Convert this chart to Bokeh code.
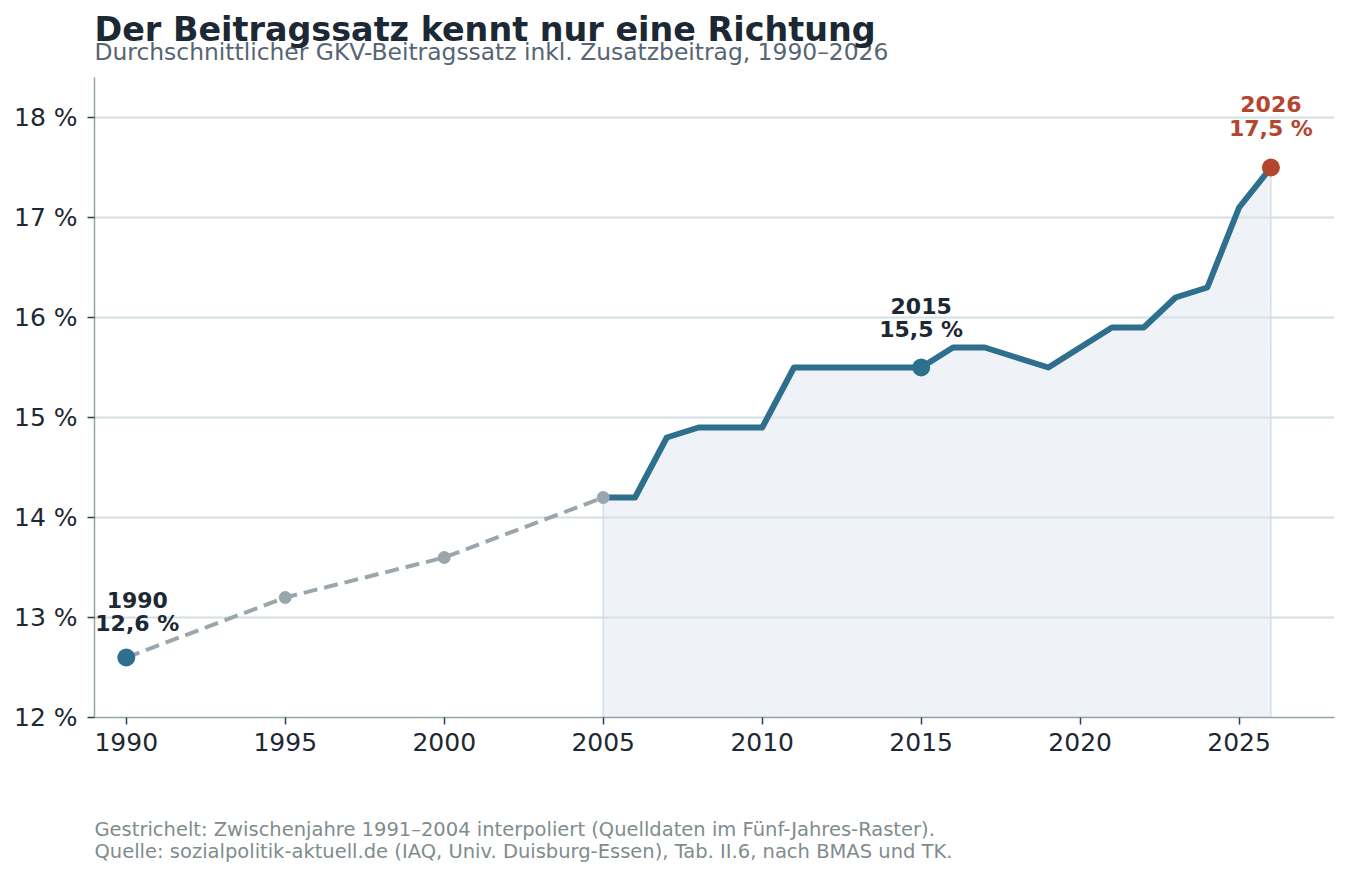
from bokeh.plotting import figure
from bokeh.models import ColumnDataSource, FixedTicker, Title
from bokeh.core.properties import value
from bokeh.embed import file_html
from bokeh.resources import INLINE

# --- data ---
dashed_years = [1990, 1995, 2000, 2005]
dashed_rates = [12.6, 13.2, 13.6, 14.2]
solid_years = [2005, 2006, 2007, 2008, 2009, 2010, 2011, 2012, 2013, 2014, 2015,
               2016, 2017, 2018, 2019, 2020, 2021, 2022, 2023, 2024, 2025, 2026]
solid_rates = [14.2, 14.2, 14.8, 14.9, 14.9, 14.9, 15.5, 15.5, 15.5, 15.5, 15.5,
               15.7, 15.7, 15.6, 15.5, 15.7, 15.9, 15.9, 16.2, 16.3, 17.1, 17.5]
grid_years = [1995, 2000, 2005]
grid_rates = [13.2, 13.6, 14.2]
hl_years = [1990, 2015]
hl_rates = [12.6, 15.5]
hl_texts = ["1990\n12,6 %", "2015\n15,5 %"]
end_year = [2026]
end_rate = [17.5]
end_text = ["2026\n17,5 %"]
x_ticks = [1990, 1995, 2000, 2005, 2010, 2015, 2020, 2025]
y_ticks = [12, 13, 14, 15, 16, 17, 18]
y_tick_labels = ["12 %", "13 %", "14 %", "15 %", "16 %", "17 %", "18 %"]

title_text = "Der Beitragssatz kennt nur eine Richtung"
subtitle_text = "Durchschnittlicher GKV-Beitragssatz inkl. Zusatzbeitrag, 1990–2026"
footer_text = ("Gestrichelt: Zwischenjahre 1991–2004 interpoliert (Quelldaten im Fünf-Jahres-Raster).\n"
               "Quelle: sozialpolitik-aktuell.de (IAQ, Univ. Duisburg-Essen), Tab. II.6, nach BMAS und TK.")

BLUE = "#2e6f8e"
GRAY = "#9aa6ac"
RED = "#b5452f"
DARK = "#1c2833"
FONT = "DejaVu Sans"

p = figure(width=1349, height=877, output_backend="svg", toolbar_location=None,
           x_range=(1989, 2028), y_range=(12, 18.4),
           min_border_left=94, min_border_right=15, min_border_top=77, min_border_bottom=160)
p.outline_line_color = None
p.background_fill_color = "white"
p.border_fill_color = "white"

# gridlines
p.xgrid.visible = False
p.ygrid.grid_line_color = "#d3dfe3"
p.ygrid.grid_line_width = 2

# area under solid part (translucent so the grid shows through)
area_x = [solid_years[0]] + solid_years + [solid_years[-1]]
area_y = [12] + solid_rates + [12]
p.patch(area_x, area_y, fill_color="#dbe4ed", fill_alpha=0.45,
        line_color="#cfd8df", line_alpha=0.8, line_width=1.5)

# dashed interpolated
p.line(dashed_years, dashed_rates, line_color=GRAY, line_width=4, line_dash="14 7")
# solid
p.line(solid_years, solid_rates, line_color=BLUE, line_width=6, line_join="round")
p.scatter(grid_years, grid_rates, size=13, fill_color=GRAY, line_color=None)
p.scatter(hl_years, hl_rates, size=18, fill_color=BLUE, line_color=None)
p.scatter(end_year, end_rate, size=18, fill_color=RED, line_color=None)

hl_src = ColumnDataSource(dict(x=hl_years, y=hl_rates, t=hl_texts, xo=[11, 0], yo=[-22, -26]))
p.text(x="x", y="y", text="t", source=hl_src, x_offset="xo", y_offset="yo", text_align="center",
       text_baseline="bottom", text_font=value(FONT), text_font_size="22px",
       text_font_style="bold", text_color=DARK, text_line_height=0.92)
end_src = ColumnDataSource(dict(x=end_year, y=end_rate, t=end_text))
p.text(x="x", y="y", text="t", source=end_src, y_offset=-27, text_align="center",
       text_baseline="bottom", text_font=value(FONT), text_font_size="22px",
       text_font_style="bold", text_color=RED, text_line_height=0.95)

# axes
for ax in (p.xaxis[0], p.yaxis[0]):
    ax.axis_line_color = "#95a5a6"
    ax.axis_line_width = 1.5
    ax.major_tick_line_color = "#2c3e50"
    ax.major_tick_line_width = 1.5
    ax.major_tick_out = 7
    ax.major_tick_in = 0
    ax.minor_tick_line_color = None
    ax.major_label_text_font = FONT
    ax.major_label_text_font_size = "25px"
    ax.major_label_text_color = DARK
p.xaxis.ticker = FixedTicker(ticks=x_ticks)
p.yaxis.ticker = FixedTicker(ticks=y_ticks)
p.yaxis.major_label_overrides = {t: l for t, l in zip(y_ticks, y_tick_labels)}
p.xaxis.major_label_standoff = 8
p.yaxis.major_label_standoff = 10

# titles (subtitle first = closest to the frame)
p.add_layout(Title(text=subtitle_text, text_font=FONT, text_font_size="23.4px",
                   text_font_style="normal", text_color="#566573", align="left",
                   standoff=23), "above")
p.add_layout(Title(text=title_text, text_font=FONT, text_font_size="33.4px",
                   text_font_style="bold", text_color=DARK, align="left",
                   standoff=-49), "above")
# spacer between x axis and footer, then footer
p.add_layout(Title(text="\u00a0", text_font=FONT, text_font_size="53px",
                   text_color="white", align="left", standoff=0), "below")
p.add_layout(Title(text=footer_text, text_font=FONT, text_font_size="19.5px",
                   text_font_style="normal", text_color="#7f8c8d", align="left",
                   text_line_height=0.97, standoff=0), "below")

open("out.html", "w").write(file_html(p, INLINE))
